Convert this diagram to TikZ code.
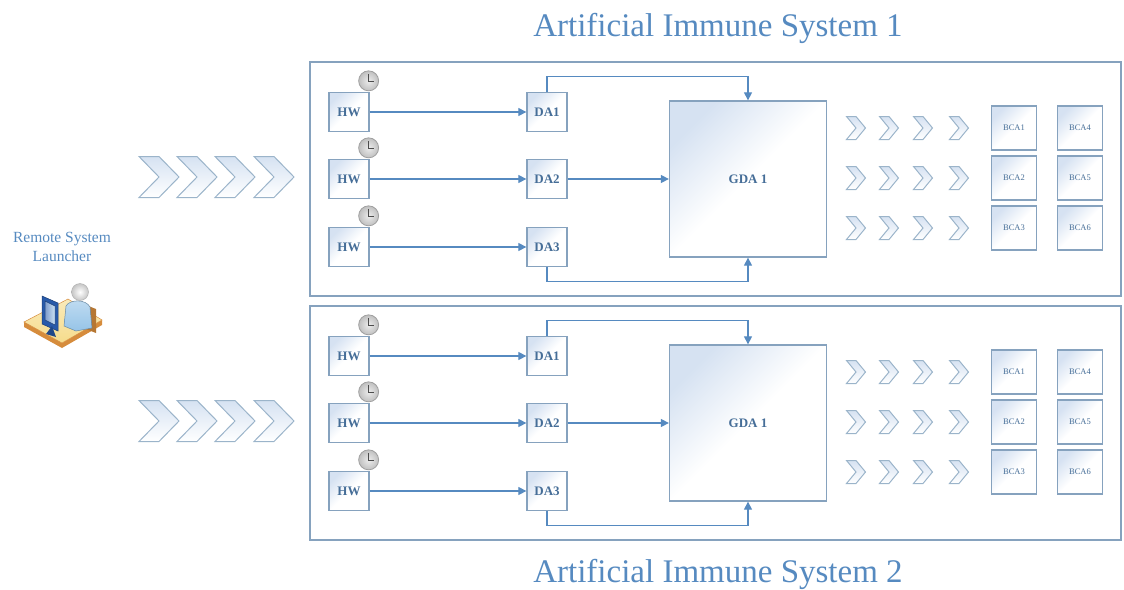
\documentclass[tikz,border=0pt]{standalone}
\usepackage{fontspec}
\setmainfont{Liberation Serif}
\usetikzlibrary{arrows.meta,calc}
\definecolor{aisblue}{RGB}{86,138,192}
\definecolor{aisedge}{RGB}{134,162,190}
\definecolor{aistext}{RGB}{70,110,152}
\definecolor{aisfill}{RGB}{214,226,242}
\definecolor{chevedge}{RGB}{155,180,202}
\definecolor{desk}{RGB}{246,220,140}
\definecolor{deskedge}{RGB}{214,140,60}
\definecolor{shirt}{RGB}{150,196,232}
\definecolor{screen}{RGB}{40,90,170}
\tikzset{
  unit/.style={draw=aisedge,line width=1.3pt,top color=aisfill,bottom color=white,middle color=white,shading angle=45,inner sep=0pt,text=aistext},
  hw/.style={unit,minimum width=40pt,minimum height=39pt,font=\bfseries\fontsize{13}{13}\selectfont},
  gda/.style={unit,minimum width=157pt,minimum height=156pt,font=\bfseries\fontsize{13}{13}\selectfont},
  bca/.style={unit,minimum width=45pt,minimum height=44pt,font=\fontsize{8.5}{9}\selectfont},
  frame/.style={draw=aisedge,line width=1.4pt},
  link/.style={draw=aisblue,line width=1.2pt,-{Triangle[length=8pt,width=8pt]}},
  clock/.style={circle,draw=gray!75,line width=0.8pt,inner color=gray!15,outer color=gray!50,minimum size=20pt,inner sep=0pt},
  title/.style={text=aisblue,font=\fontsize{33}{33}\selectfont},
  chev/.style={draw=chevedge,line width=1pt,top color=aisfill,bottom color=white},
  pics/chevron/.style args={#1/#2}{code={\path[chev] (-#1/2,-#2/2) -- (0,-#2/2) -- (#1/2,0) -- (0,#2/2) -- (-#1/2,#2/2) -- (0,0) -- cycle;}}
}
\begin{document}
\begin{tikzpicture}[x=1pt,y=-1pt]
\useasboundingbox (0,0) rectangle (1124,589);
\node[title] (ais1) at (718,28) {Artificial Immune System 1};
\node[title] (ais2) at (718,574) {Artificial Immune System 2};
% the launcher and his desk
\node[align=center,text=aisblue,font=\fontsize{15.5}{19}\selectfont] (rsl) at (62,247) {Remote System\\Launcher};
\fill[deskedge] (24,322) -- (62,343) -- (102,320) -- (102,325) -- (62,348) -- (24,327) -- cycle;
\path[top color=desk!60,bottom color=desk,draw=deskedge,line width=0.5pt] (24,322) -- (68,299) -- (102,320) -- (62,343) -- cycle;
\fill[deskedge!85!black] (86,305) -- (96,309) -- (96,333) -- (86,329) -- cycle;
\path[top color=shirt!60,bottom color=shirt,draw=shirt!70!black,line width=0.5pt] (66,306) .. controls (70,299) and (86,299) .. (90,307) -- (92,328) -- (76,331) -- (64,326) -- cycle;
\path[inner color=white,outer color=gray!45,draw=gray!65] (80,292) circle (8.5);
\path[fill=screen,draw=screen!70!black,line width=0.5pt] (42,296) -- (58,303) -- (58,331) -- (42,324) -- cycle;
\path[left color=screen!60,right color=shirt!50,draw=screen!70!black,line width=0.5pt] (45,301) -- (55,306) -- (55,325) -- (45,320) -- cycle;
\fill[screen!80!black] (46,334) -- (52,326) -- (56,337) -- cycle;
% both systems
\foreach \s/\oy in {1/0,2/244}{
  \draw[frame] (310,62+\oy) rectangle (1121,296+\oy);
  \foreach \cx in {159,197,235,274} \pic at (\cx,177+\oy) {chevron=40/41};
  \foreach \i/\cy in {1/112,2/179,3/247}{
    \node[hw] (hw\s\i) at (349,\cy+\oy) {HW};
    \node[hw] (da\s\i) at (547,\cy+\oy) {DA\i};
    \node[clock] (ck\s\i) at ($(hw\s\i.north east)+(-1,-11)$) {};
    \draw[gray!60!black,line width=0.6pt] ($(ck\s\i.center)+(0,-7)$) -- (ck\s\i.center) -- ++(5,0);
    \draw[link] (hw\s\i) -- (da\s\i);
  }
  \node[gda] (gda\s) at (748,179+\oy) {GDA 1};
  \draw[link] (da\s2) -- (gda\s);
  \draw[link] (da\s1.north) -- ++(0,-15) -| (gda\s.north);
  \draw[link] (da\s3.south) -- ++(0,14) -| (gda\s.south);
  \foreach \cy [count=\r] in {128,178,228}{
    \foreach \cx in {856,889,923,959} \pic at (\cx,\cy+\oy) {chevron=19/23};
    \pgfmathtruncatemacro\rr{\r+3}
    \node[bca] (bca\s\r) at (1014,\cy+\oy) {BCA\r};
    \node[bca] (bcb\s\r) at (1080,\cy+\oy) {BCA\rr};
  }
}
\end{tikzpicture}
\end{document}
